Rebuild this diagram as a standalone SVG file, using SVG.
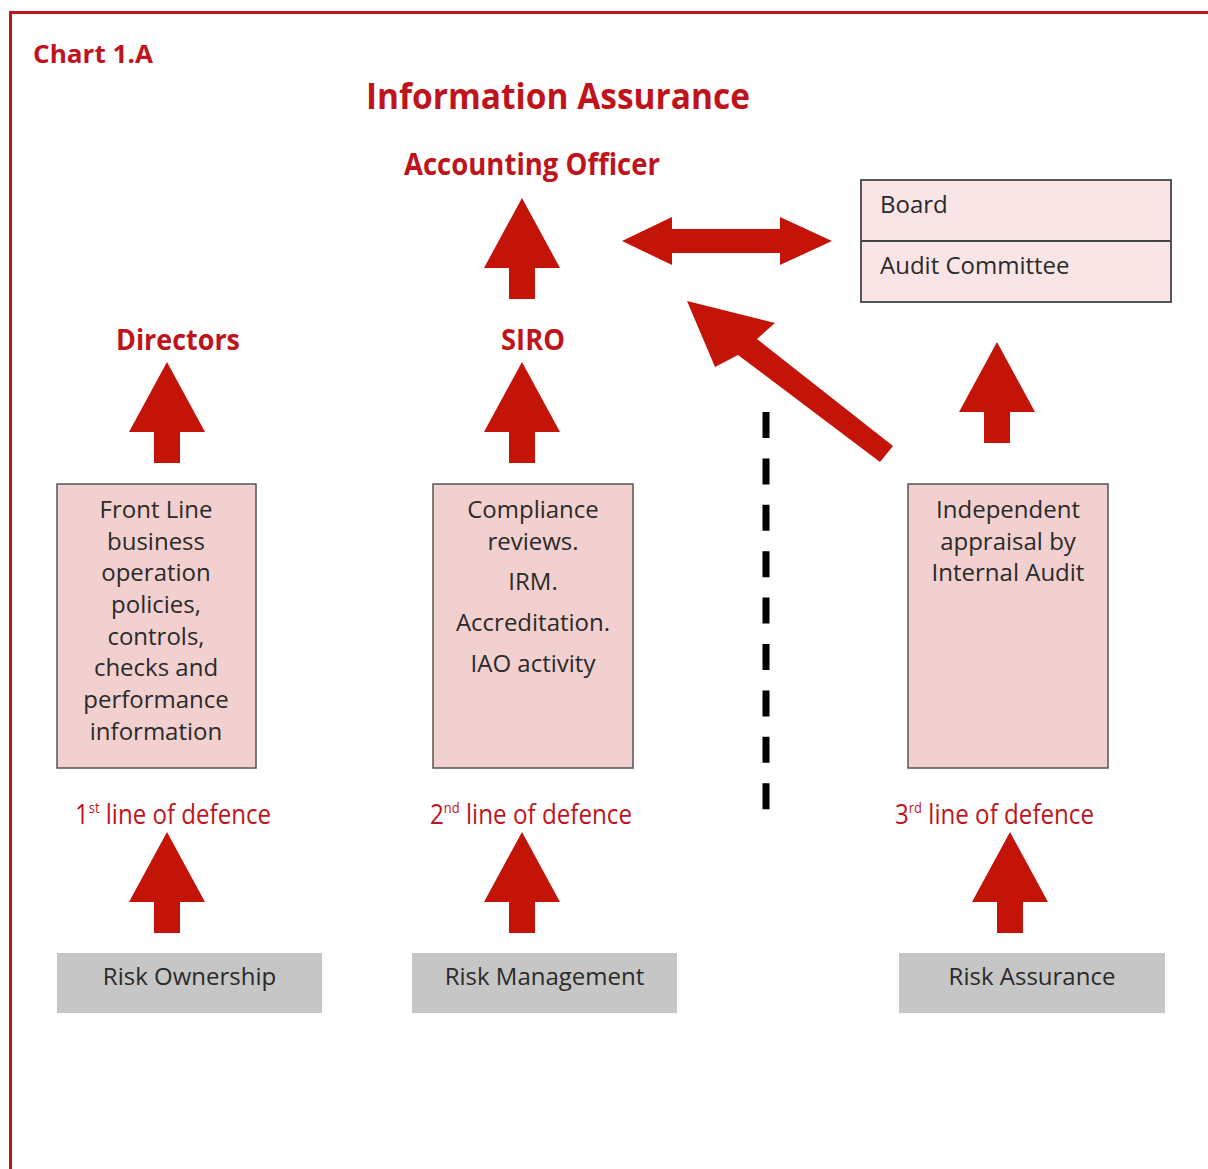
<svg xmlns="http://www.w3.org/2000/svg" xmlns:xlink="http://www.w3.org/1999/xlink" width="1208" height="1169" viewBox="0 0 1208 1169">
<defs>
<style>
.head{font-family:"Open Sans","Noto Sans",sans-serif;font-weight:bold;fill:#c0141c;}
.lod{font-family:"Open Sans","Noto Sans",sans-serif;fill:#c0141c;font-size:28px;}
.body{font-family:"Open Sans","Noto Sans",sans-serif;fill:#2a2a2a;font-size:24px;}
.pink{fill:#f2d0cf;stroke:#555;stroke-width:1.5;}
.light{fill:#f9e5e5;stroke:#444;stroke-width:1.8;}
.grey{fill:#c6c6c6;}
.arrow{fill:#c41408;}
</style>
<path id="up" d="M0,0 L38,70 L13,70 L13,101 L-13,101 L-13,70 L-38,70 Z"/>
</defs>
<rect width="1208" height="1169" fill="#ffffff"/>
<path d="M10.5,1169 L10.5,12.5 L1208,12.5" fill="none" stroke="#c0141c" stroke-width="3"/>

<text class="head" x="33" y="63" font-size="25" textLength="120" lengthAdjust="spacingAndGlyphs">Chart 1.A</text>
<text class="head" x="558" y="109" font-size="35" text-anchor="middle" textLength="384" lengthAdjust="spacingAndGlyphs">Information Assurance</text>
<text class="head" x="532" y="175" font-size="30" text-anchor="middle" textLength="256" lengthAdjust="spacingAndGlyphs">Accounting Officer</text>
<text class="head" x="178" y="350" font-size="29" text-anchor="middle" textLength="124" lengthAdjust="spacingAndGlyphs">Directors</text>
<text class="head" x="533" y="350" font-size="29" text-anchor="middle" textLength="64" lengthAdjust="spacingAndGlyphs">SIRO</text>

<g id="connectors">
<use xlink:href="#up" href="#up" class="arrow" x="522" y="198"/>
<use xlink:href="#up" href="#up" class="arrow" x="167" y="362"/>
<use xlink:href="#up" href="#up" class="arrow" x="522" y="362"/>
<use xlink:href="#up" href="#up" class="arrow" x="997" y="342"/>
<use xlink:href="#up" href="#up" class="arrow" x="167" y="832"/>
<use xlink:href="#up" href="#up" class="arrow" x="522" y="832"/>
<use xlink:href="#up" href="#up" class="arrow" x="1010" y="832"/>
<polygon class="arrow" points="622,241 672,217 672,229 780,229 780,217 832,241 780,265 780,253 672,253 672,265"/>
<polygon class="arrow" points="687,301 775,323 757,339 893,446 880,462 738,355 715,367"/>
<line x1="766" y1="412" x2="766" y2="812" stroke="#000" stroke-width="7" stroke-dasharray="26 20.4"/>
</g>

<g id="board">
<rect class="light" x="861" y="180" width="310" height="122"/>
<line x1="861" y1="241" x2="1171" y2="241" stroke="#444" stroke-width="1.8"/>
<text class="body" x="880" y="213">Board</text>
<text class="body" x="880" y="274">Audit Committee</text>
</g>

<g id="frontline">
<rect class="pink" x="57" y="484" width="199" height="284"/>
<text class="body" text-anchor="middle"><tspan x="156" y="518">Front Line</tspan><tspan x="156" y="550">business</tspan><tspan x="156" y="581">operation</tspan><tspan x="156" y="613">policies,</tspan><tspan x="156" y="645">controls,</tspan><tspan x="156" y="676">checks and</tspan><tspan x="156" y="708">performance</tspan><tspan x="156" y="740">information</tspan></text>
</g>

<g id="compliance">
<rect class="pink" x="433" y="484" width="200" height="284"/>
<text class="body" text-anchor="middle"><tspan x="533" y="518">Compliance</tspan><tspan x="533" y="550">reviews.</tspan><tspan x="533" y="590">IRM.</tspan><tspan x="533" y="631">Accreditation.</tspan><tspan x="533" y="672">IAO activity</tspan></text>
</g>

<g id="independent">
<rect class="pink" x="908" y="484" width="200" height="284"/>
<text class="body" text-anchor="middle"><tspan x="1008" y="518">Independent</tspan><tspan x="1008" y="550">appraisal by</tspan><tspan x="1008" y="581">Internal Audit</tspan></text>
</g>

<g id="lod1">
<text class="lod" x="75" y="824" textLength="196" lengthAdjust="spacingAndGlyphs">1<tspan font-size="15" dy="-11">st</tspan><tspan dy="11"> line of defence</tspan></text>
</g>
<g id="lod2">
<text class="lod" x="430" y="824" textLength="202" lengthAdjust="spacingAndGlyphs">2<tspan font-size="15" dy="-11">nd</tspan><tspan dy="11"> line of defence</tspan></text>
</g>
<g id="lod3">
<text class="lod" x="895" y="824" textLength="199" lengthAdjust="spacingAndGlyphs">3<tspan font-size="15" dy="-11">rd</tspan><tspan dy="11"> line of defence</tspan></text>
</g>

<g id="ownership">
<rect class="grey" x="57" y="953" width="265" height="60"/>
<text class="body" x="189.5" y="985" text-anchor="middle">Risk Ownership</text>
</g>
<g id="management">
<rect class="grey" x="412" y="953" width="265" height="60"/>
<text class="body" x="544.5" y="985" text-anchor="middle">Risk Management</text>
</g>
<g id="assurance">
<rect class="grey" x="899" y="953" width="266" height="60"/>
<text class="body" x="1032" y="985" text-anchor="middle">Risk Assurance</text>
</g>
</svg>
